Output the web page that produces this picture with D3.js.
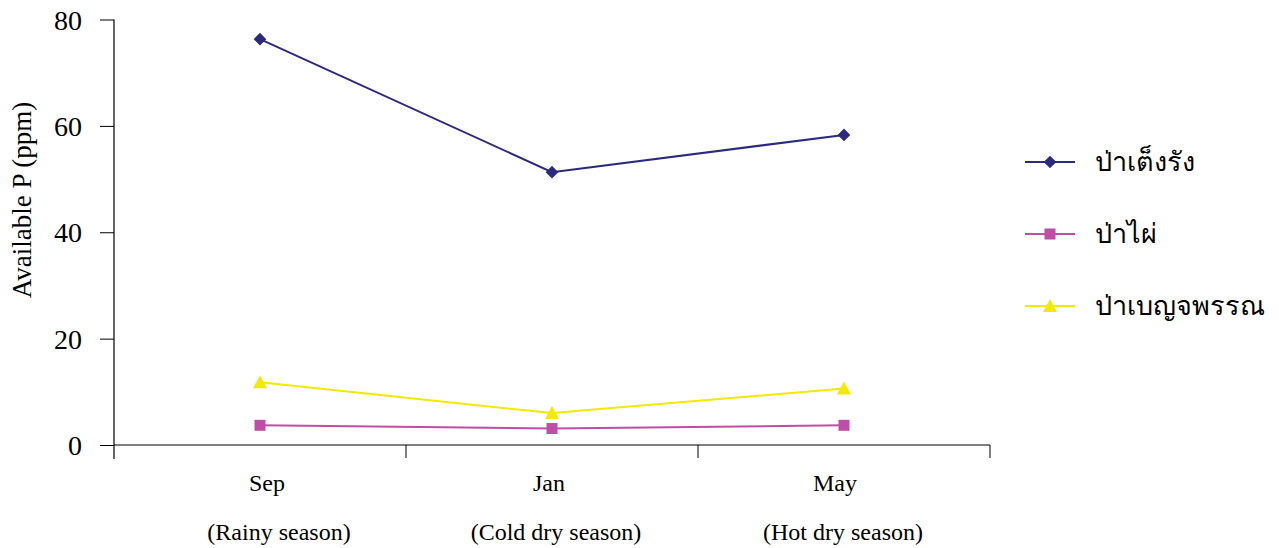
<!DOCTYPE html>
<html>
<head>
<meta charset="utf-8">
<script src="https://cdn.jsdelivr.net/npm/d3@7"></script>
<style>
  body { margin: 0; background: #fff; }
  svg text { font-family: "Liberation Serif", "Times New Roman", serif; fill: #000; }
</style>
</head>
<body>
<svg id="chart" width="1279" height="548"></svg>
<script>
// Sampling months and their seasons
const months = ["Sep", "Jan", "May"];
const seasons = ["(Rainy season)", "(Cold dry season)", "(Hot dry season)"];

// Available phosphorus (ppm) per forest type
const seriesNames = ["ป่าเต็งรัง", "ป่าไผ่", "ป่าเบญจพรรณ"];
const dipterocarp = [76.3, 51.3, 58.3];
const bamboo = [3.7, 3.1, 3.7];
const mixedDeciduous = [11.8, 6.0, 10.6];

const yTicks = [0, 20, 40, 60, 80];

const series = [
  { name: seriesNames[0], values: dipterocarp, color: "#2b2a7c", marker: "diamond" },
  { name: seriesNames[1], values: bamboo, color: "#bf4fa6", marker: "square" },
  { name: seriesNames[2], values: mixedDeciduous, color: "#f2ea00", marker: "triangle" }
];

const svg = d3.select("#chart");
const plotLeft = 114, plotRight = 990, plotTop = 19.5, plotBottom = 445;

const x = d3.scaleBand().domain(months).range([plotLeft, plotRight]);
const y = d3.scaleLinear().domain([0, 80]).range([plotBottom, plotTop]);

// Y axis
const yAxis = svg.append("g").attr("transform", `translate(${plotLeft},0)`)
  .call(d3.axisLeft(y).tickValues(yTicks).tickSize(14).tickPadding(18));
yAxis.select(".domain").remove();
yAxis.selectAll(".tick line").attr("stroke", "#000");
yAxis.selectAll(".tick text").style("font-size", "28px").attr("dy", "0.34em");
svg.append("line").attr("x1", plotLeft).attr("x2", plotLeft).attr("y1", plotTop).attr("y2", plotBottom + 14)
  .attr("stroke", "#000").attr("stroke-width", 1.2);

// X axis with category boundary ticks
svg.append("line").attr("x1", plotLeft).attr("x2", plotRight).attr("y1", plotBottom).attr("y2", plotBottom)
  .attr("stroke", "#000").attr("stroke-width", 1.2);
const boundaries = months.map(m => x(m)).concat([plotRight]).slice(1);
svg.selectAll(".xtick").data(boundaries).enter().append("line")
  .attr("x1", d => d).attr("x2", d => d).attr("y1", plotBottom).attr("y2", plotBottom + 13)
  .attr("stroke", "#000").attr("stroke-width", 1);

const cx = m => x(m) + x.bandwidth() / 2;

svg.selectAll(".month").data(months).enter().append("text")
  .attr("x", (d, i) => cx(d) + [7, -3, -9][i]).attr("y", 491)
  .attr("text-anchor", "middle").style("font-size", "24px").text(d => d);
svg.selectAll(".season").data(seasons).enter().append("text")
  .attr("x", (d, i) => cx(months[i]) + [19, 4, -1][i]).attr("y", 540)
  .attr("text-anchor", "middle").style("font-size", "24px").text(d => d);

// Y title
svg.append("text")
  .attr("transform", `translate(31,200) rotate(-90)`)
  .attr("text-anchor", "middle").style("font-size", "27px").text("Available P (ppm)");

// Markers
function drawMarker(g, type, color, px, py) {
  if (type === "diamond") {
    g.append("path").attr("d", d3.symbol().type(d3.symbolSquare).size(80)())
      .attr("transform", `translate(${px},${py}) rotate(45)`).attr("fill", color);
  } else if (type === "square") {
    g.append("rect").attr("x", px - 5.5).attr("y", py - 5.5).attr("width", 11).attr("height", 11).attr("fill", color);
  } else {
    g.append("path").attr("d", `M${px},${py - 7} L${px + 7},${py + 6} L${px - 7},${py + 6} Z`).attr("fill", color);
  }
}

const line = d3.line().x((d, i) => cx(months[i])).y(d => y(d));

series.forEach(s => {
  const g = svg.append("g");
  g.append("path").datum(s.values).attr("d", line)
    .attr("fill", "none").attr("stroke", s.color).attr("stroke-width", 2);
  s.values.forEach((v, i) => drawMarker(g, s.marker, s.color, cx(months[i]), y(v)));
});

// Legend
const legendY = [162, 234, 306];
series.forEach((s, i) => {
  const g = svg.append("g");
  g.append("line").attr("x1", 1025).attr("x2", 1075).attr("y1", legendY[i]).attr("y2", legendY[i])
    .attr("stroke", s.color).attr("stroke-width", 2);
  drawMarker(g, s.marker, s.color, 1050, legendY[i]);
  g.append("text").attr("x", 1095).attr("y", legendY[i]).attr("dy", "0.35em")
    .style("font-size", "27px").text(s.name);
});
</script>
</body>
</html>
